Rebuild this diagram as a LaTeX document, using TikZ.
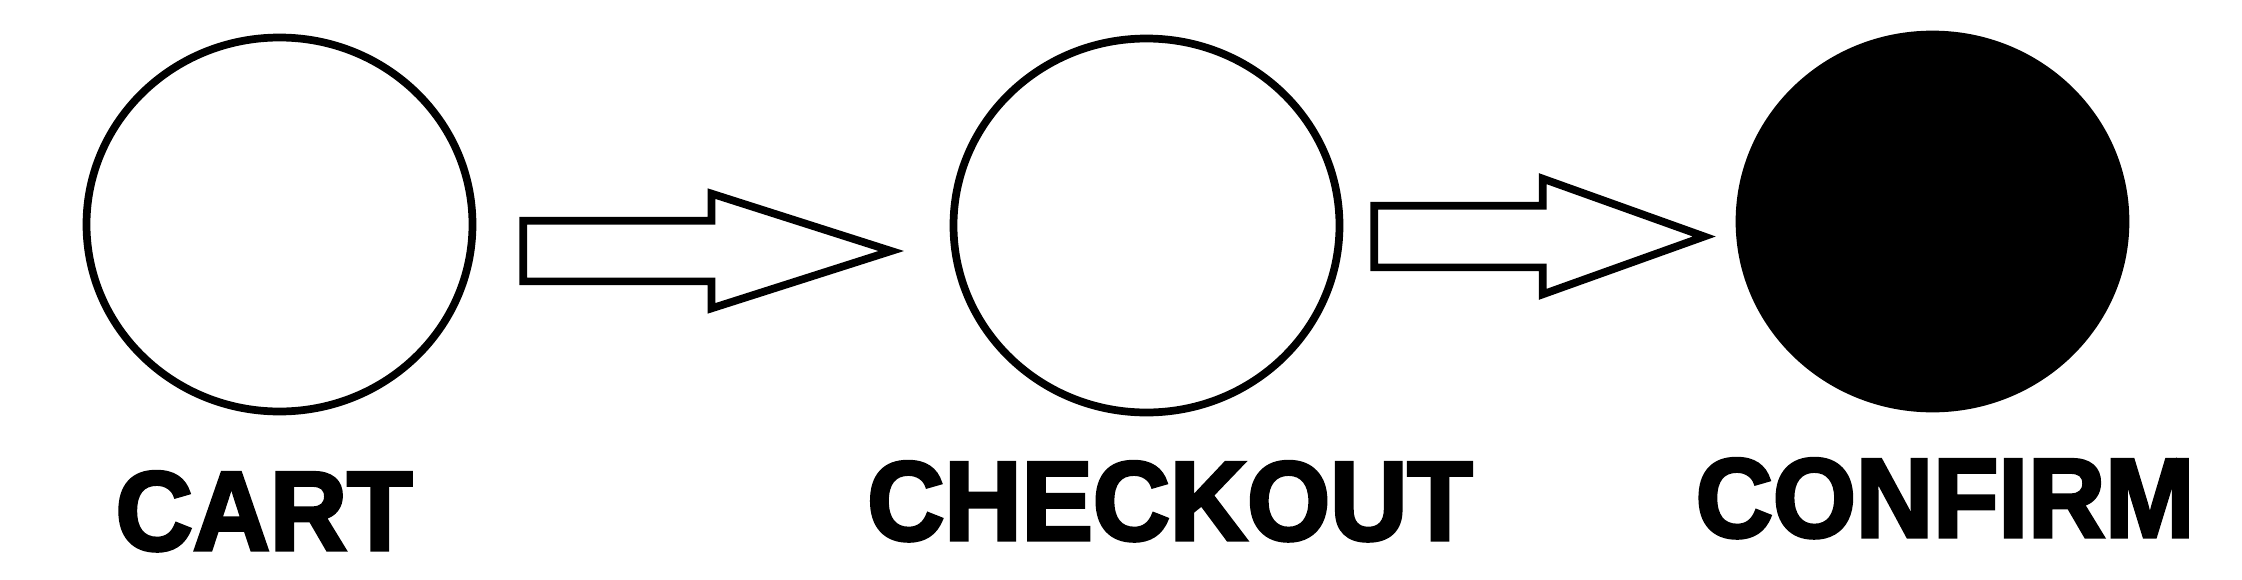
\documentclass[tikz,border=0pt]{standalone}
\usepackage{fontspec}
\newfontfamily\labelfont[UprightFont=* Bold,FakeBold=3,FakeStretch=0.95]{Liberation Sans}
\usetikzlibrary{shapes.geometric,shapes.arrows,positioning}
\begin{document}
\begin{tikzpicture}
    \tikzset{stage/.style={ellipse,draw,line width=2.2pt,inner sep=0pt,
      minimum width=3.86cm,minimum height=3.74cm},
    done/.style={fill=black},
    flow/.style={single arrow,draw,line width=2.2pt,inner xsep=0pt,
      single arrow head extend=0.27cm},
    lbl/.style={anchor=base,inner sep=0pt,
      font=\labelfont\fontsize{32pt}{32pt}\selectfont}}
    \useasboundingbox (0,0) rectangle (22.42,-5.80);
    \node[stage] (cart) at (2.795,-2.245) {};
    \node[stage] (checkout) at (11.465,-2.255) {};
    \node[stage,done] (confirm) at (19.325,-2.215) {};%final step
    \node[flow,minimum height=3.68cm,inner ysep=0.265cm,single arrow tip angle=35.4]
      (go1) [right=0.43cm of cart,yshift=-0.265cm] {};
    \node[flow,minimum height=3.30cm,inner ysep=0.27cm,single arrow tip angle=39.4]
      (go2) [right=0.27cm of checkout,yshift=-0.11cm] {};
    \node[lbl] (cartlbl) at (2.64,-5.50) {CART};
    \node[lbl] (checkoutlbl) at (11.70,-5.40) {CHECKOUT};
    \node[lbl] (confirmlbl) at (19.45,-5.37) {CONFIRM};
  \end{tikzpicture}
\end{document}
